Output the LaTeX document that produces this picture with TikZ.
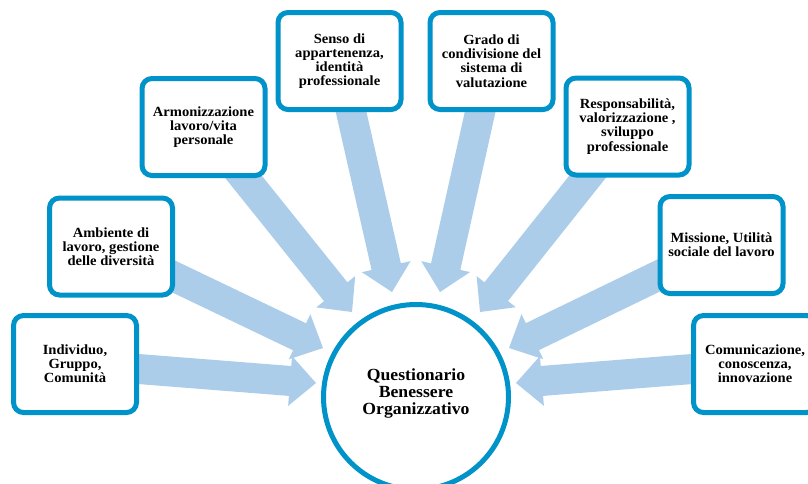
\documentclass[tikz,border=0pt]{standalone}
\usepackage{fontspec}
\setmainfont{Liberation Serif}[FakeStretch=1.04]
\usetikzlibrary{calc,backgrounds}
\definecolor{boxblue}{HTML}{0093C9}
\definecolor{arrowblue}{HTML}{ABCDE9}
\tikzset{
  topic/.style={draw=boxblue, line width=5pt, rounded corners=10pt, fill=white,
    minimum width=123pt, minimum height=97pt, inner sep=0pt, align=center,
    font=\bfseries\fontsize{14}{14.2}\selectfont},
  hub/.style={circle, draw=boxblue, line width=5pt, fill=white, minimum size=185pt,
    inner sep=0pt},
  hubtextstyle/.style={align=center, font=\bfseries\fontsize{17}{17}\selectfont},
  arrowfill/.style={fill=arrowblue},
}
\newcommand\blockarrow[2]{%
  \coordinate (hb) at ($(#2)!26pt!(#1)$);
  \fill[arrowfill] ($(#1)!15pt!90:(#2)$) -- ($(hb)!15pt!90:(#2)$) -- ($(hb)!25pt!90:(#2)$)
    -- (#2) -- ($(hb)!25pt!-90:(#2)$) -- ($(hb)!15pt!-90:(#2)$) -- ($(#1)!15pt!-90:(#2)$) -- cycle;
}
\begin{document}
\begin{tikzpicture}[x=1pt,y=-1pt]
\useasboundingbox (0,0) rectangle (808,483);
\clip (0,0) rectangle (808,483);
\node[hub] (hub) at (416,397) {};
\node[hubtextstyle] (hubtext) at (416,393) {Questionario\\Benessere\\Organizzativo};
\node[topic] (b1) at (75,364) {Individuo,\\Gruppo,\\Comunità};
\node[topic] (b2) at (111,246.5) {Ambiente di\\lavoro, gestione\\delle diversità};
\node[topic] (b3) at (203.5,127) {Armonizzazione\\lavoro/vita\\personale};
\node[topic] (b4) at (339.5,61) {Senso di\\appartenenza,\\identità\\professionale};
\node[topic] (b5) at (491.5,61) {Grado di\\condivisione del\\sistema di\\valutazione};
\node[topic] (b6) at (627.5,126.5) {Responsabilità,\\valorizzazione ,\\sviluppo\\professionale};
\node[topic] (b7) at (721.5,245) {Missione, Utilità\\sociale del lavoro};
\node[topic] (b8) at (755,364) {Comunicazione,\\conoscenza,\\innovazione};
\coordinate (t1) at (316,383);
\coordinate (t2) at (323,348);
\coordinate (t3) at (352,312);
\coordinate (t4) at (392,292);
\coordinate (t5) at (440,292);
\coordinate (t6) at (480,312);
\coordinate (t7) at (509,348);
\coordinate (t8) at (516,383);
\begin{pgfonlayer}{background}
\blockarrow{b1}{t1}
\blockarrow{b2}{t2}
\blockarrow{b3}{t3}
\blockarrow{b4}{t4}
\blockarrow{b5}{t5}
\blockarrow{b6}{t6}
\blockarrow{b7}{t7}
\blockarrow{b8}{t8}
\end{pgfonlayer}
\end{tikzpicture}
\end{document}
